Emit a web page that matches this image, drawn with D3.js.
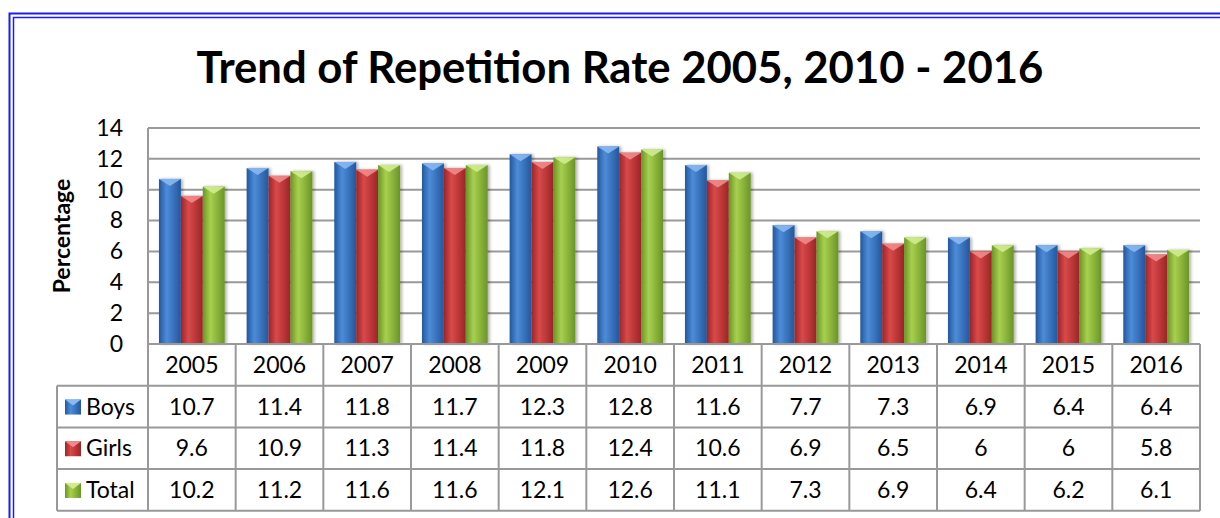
<html>
<script src='https://d3js.org/d3.v7.min.js'></script>
<style>
body {margin: 0; background: white;}
text {font-family: Lato, 'Open Sans', sans-serif; fill: black;}
.grid line {stroke: #999; stroke-width: 2;}
.tbl line {stroke: #999; stroke-width: 2;}
</style>
<body>
<svg width=1220 height=518></svg>
<script>
var years = ["2005","2006","2007","2008","2009","2010","2011","2012","2013","2014","2015","2016"];
var seriesNames = ["Boys", "Girls", "Total"];
var boys  = [10.7, 11.4, 11.8, 11.7, 12.3, 12.8, 11.6, 7.7, 7.3, 6.9, 6.4, 6.4];
var girls = [9.6, 10.9, 11.3, 11.4, 11.8, 12.4, 10.6, 6.9, 6.5, 6, 6, 5.8];
var total = [10.2, 11.2, 11.6, 11.6, 12.1, 12.6, 11.1, 7.3, 6.9, 6.4, 6.2, 6.1];
var yTicks = [0, 2, 4, 6, 8, 10, 12, 14];

var series = [boys, girls, total];
// edge, mid, top-bevel colours per series
var colors = [
  {dark: "#23579e", mid: "#4d8cd8", top: "#8ab8f0"},
  {dark: "#9c2526", mid: "#d9494a", top: "#f08a8a"},
  {dark: "#6a9526", mid: "#a8d04e", top: "#d0ec8e"}
];

var svg = d3.select("svg");
var plotLeft = 148, plotRight = 1200, plotTop = 128, plotBottom = 344;
var rowH = 41.7, legendLeft = 57;
var fs = "23px";

// double blue border
svg.append("rect").attr("x", 9.5).attr("y", 13.5).attr("width", 1300).attr("height", 600)
  .attr("fill", "none").attr("stroke", "#1a1aff").attr("stroke-width", 2);
svg.append("rect").attr("x", 13.5).attr("y", 17.5).attr("width", 1300).attr("height", 600)
  .attr("fill", "none").attr("stroke", "#1a1aff").attr("stroke-width", 1.5);

var defs = svg.append("defs");
colors.forEach(function(c, i) {
  var g = defs.append("linearGradient").attr("id", "grad" + i)
    .attr("x1", "0%").attr("x2", "100%").attr("y1", "0%").attr("y2", "0%");
  g.append("stop").attr("offset", "0%").attr("stop-color", c.dark);
  g.append("stop").attr("offset", "35%").attr("stop-color", c.mid);
  g.append("stop").attr("offset", "100%").attr("stop-color", c.dark);
});
var f = defs.append("filter").attr("id", "shadow").attr("x", "-20%").attr("width", "150%");
f.append("feDropShadow").attr("dx", 2).attr("dy", 0).attr("stdDeviation", 1.5)
  .attr("flood-color", "#000").attr("flood-opacity", 0.3);

var x = d3.scaleBand().domain(years).range([plotLeft, plotRight]).paddingInner(0).paddingOuter(0);
var xs = d3.scaleBand().domain(seriesNames).range([0, x.bandwidth()]).paddingOuter(0.5).paddingInner(0);
var y = d3.scaleLinear().domain([0, 14]).range([plotBottom, plotTop]);

// title
var title = svg.append("text").attr("x", 620).attr("y", 83).attr("text-anchor", "middle")
  .style("font-weight", "bold").style("font-size", "40px")
  .text("Trend of Repetition Rate 2005, 2010 - 2016");
var tw = title.node().getComputedTextLength();
title.style("font-size", (40 * 847 / tw) + "px");

// gridlines
svg.append("g").attr("class", "grid").selectAll("line").data(yTicks).enter().append("line")
  .attr("x1", plotLeft).attr("x2", plotRight)
  .attr("y1", function(d) { return y(d); }).attr("y2", function(d) { return y(d); });
svg.append("line").attr("x1", plotLeft).attr("x2", plotLeft).attr("y1", plotTop).attr("y2", plotBottom)
  .attr("stroke", "#999").attr("stroke-width", 2);

// y axis labels
var yAxis = svg.append("g").attr("transform", "translate(" + (plotLeft - 25) + ",0)")
  .call(d3.axisLeft(y).tickValues(yTicks).tickSize(0).tickPadding(0));
yAxis.select(".domain").remove();
yAxis.selectAll("text").attr("font-family", null).attr("font-size", null).style("font-size", fs);

svg.append("text").attr("transform", "translate(70,236) rotate(-90)")
  .attr("text-anchor", "middle").style("font-weight", "bold").style("font-size", "23px")
  .text("Percentage");

// bars
series.forEach(function(vals, si) {
  var g = svg.append("g");
  var bw = xs.bandwidth();
  g.selectAll("rect").data(vals).enter().append("rect")
    .attr("x", function(d, i) { return x(years[i]) + xs(seriesNames[si]); })
    .attr("y", function(d) { return y(d); })
    .attr("width", bw)
    .attr("height", function(d) { return y(0) - y(d); })
    .attr("fill", "url(#grad" + si + ")")
    .attr("filter", "url(#shadow)");
  g.selectAll("polygon").data(vals).enter().append("polygon")
    .attr("points", function(d, i) {
      var x0 = x(years[i]) + xs(seriesNames[si]), y0 = y(d);
      return [[x0, y0], [x0 + bw, y0], [x0 + bw / 2, y0 + 7]].join(" ");
    })
    .attr("fill", colors[si].top).attr("opacity", 0.9);
});

// data table
var tbl = svg.append("g").attr("class", "tbl");
var rowsY = [plotBottom, plotBottom + rowH, plotBottom + 2 * rowH, plotBottom + 3 * rowH, plotBottom + 4 * rowH];
tbl.append("line").attr("x1", plotLeft).attr("x2", plotRight).attr("y1", rowsY[0]).attr("y2", rowsY[0]);
rowsY.slice(1).forEach(function(ry) {
  tbl.append("line").attr("x1", legendLeft).attr("x2", plotRight).attr("y1", ry).attr("y2", ry);
});
tbl.append("line").attr("x1", legendLeft).attr("x2", legendLeft).attr("y1", rowsY[1]).attr("y2", rowsY[4]);
years.forEach(function(yr) {
  tbl.append("line").attr("x1", x(yr)).attr("x2", x(yr)).attr("y1", rowsY[0]).attr("y2", rowsY[4]);
});
tbl.append("line").attr("x1", plotRight).attr("x2", plotRight).attr("y1", rowsY[0]).attr("y2", rowsY[4]);

svg.append("g").selectAll("text").data(years).enter().append("text")
  .attr("x", function(d) { return x(d) + x.bandwidth() / 2; })
  .attr("y", rowsY[0] + rowH / 2 + 8)
  .attr("text-anchor", "middle").style("font-size", fs)
  .text(function(d) { return d; });

series.forEach(function(vals, si) {
  var ry = rowsY[si + 1];
  svg.append("g").selectAll("text").data(vals).enter().append("text")
    .attr("x", function(d, i) { return x(years[i]) + x.bandwidth() / 2; })
    .attr("y", ry + rowH / 2 + 8)
    .attr("text-anchor", "middle").style("font-size", fs)
    .text(function(d) { return d; });
  // legend key
  var kx = 65, ky = ry + rowH / 2 - 7;
  svg.append("rect").attr("x", kx).attr("y", ky).attr("width", 16).attr("height", 15)
    .attr("fill", "url(#grad" + si + ")");
  svg.append("polygon").attr("points", [[kx, ky], [kx + 16, ky], [kx + 8, ky + 6]].join(" "))
    .attr("fill", colors[si].top);
  svg.append("text").attr("x", 86).attr("y", ry + rowH / 2 + 8)
    .style("font-size", fs).text(seriesNames[si]);
});
</script>
</body>
</html>
